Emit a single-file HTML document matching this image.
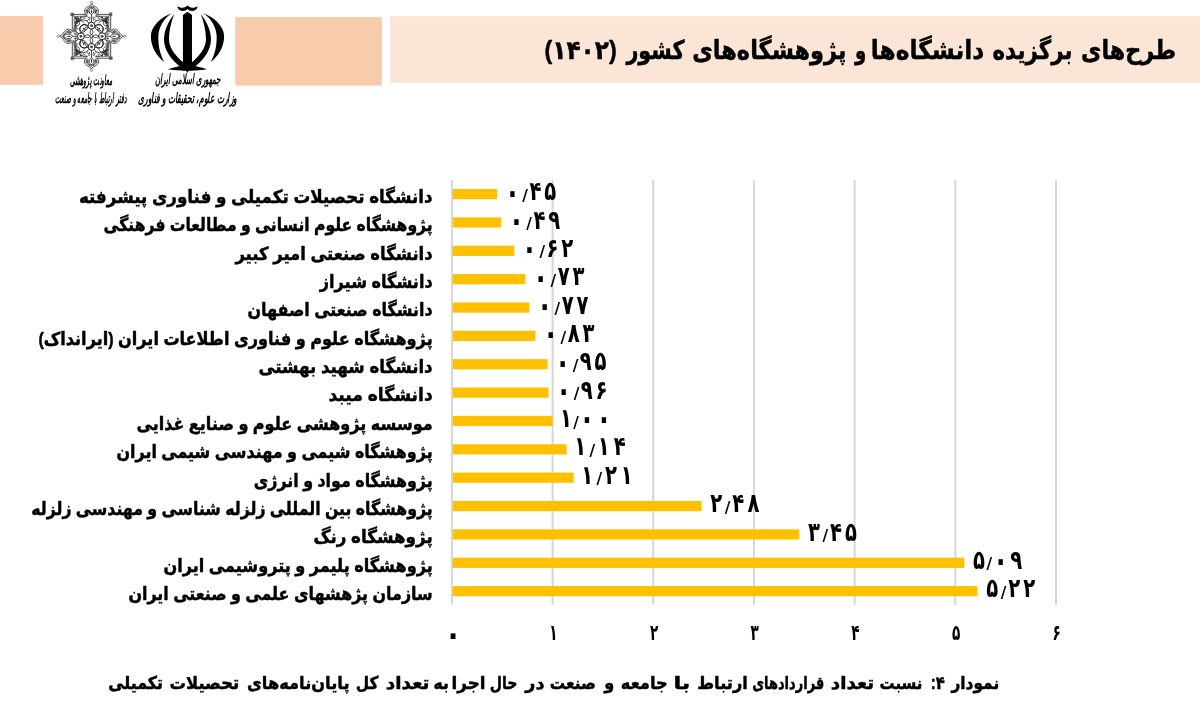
<!DOCTYPE html>
<html lang="fa">
<head>
<meta charset="utf-8">
<title>طرح‌های برگزیده دانشگاه‌ها و پژوهشگاه‌های کشور (۱۴۰۲)</title>
<style>
html,body{margin:0;padding:0;background:#fff;}
body{width:1200px;height:702px;overflow:hidden;position:relative;font-family:"Liberation Sans","DejaVu Sans",sans-serif;}
svg{position:absolute;left:0;top:0;display:block;}
text{font-family:"Liberation Sans","DejaVu Sans",sans-serif;fill:#000;}
.b{font-weight:bold;}
.cat,.ttl,.cap{stroke:#000;stroke-width:0.45px;stroke-linejoin:round;}
</style>
</head>
<body>
<svg width="1200" height="702" viewBox="0 0 1200 702">
<rect x="0" y="0" width="1200" height="702" fill="#ffffff"/>
<!-- header blocks -->
<rect x="0" y="16" width="43" height="68.8" fill="#f8cbad"/>
<rect x="235.3" y="17.1" width="146.6" height="68.5" fill="#f8cbad"/>
<rect x="390.1" y="16.2" width="809.9" height="66.6" fill="#fbe5d6"/>
<text class="b ttl" x="1176.12" y="59.0" font-size="26.2" direction="rtl" text-anchor="start" textLength="95.03" lengthAdjust="spacingAndGlyphs">طرح‌های</text>
<text class="b ttl" x="1072.48" y="59.0" font-size="26.2" direction="rtl" text-anchor="start" textLength="79.97" lengthAdjust="spacingAndGlyphs">برگزیده</text>
<text class="b ttl" x="984.31" y="59.0" font-size="26.2" direction="rtl" text-anchor="start" textLength="113.52" lengthAdjust="spacingAndGlyphs">دانشگاه‌ها</text>
<text class="b ttl" x="866.19" y="59.0" font-size="26.2" direction="rtl" text-anchor="start" textLength="11.26" lengthAdjust="spacingAndGlyphs">و</text>
<text class="b ttl" x="846.50" y="59.0" font-size="26.2" direction="rtl" text-anchor="start" textLength="154.26" lengthAdjust="spacingAndGlyphs">پژوهشگاه‌های</text>
<text class="b ttl" x="684.54" y="59.0" font-size="26.2" direction="rtl" text-anchor="start" textLength="58.15" lengthAdjust="spacingAndGlyphs">کشور</text>
<text class="b ttl" x="616.74" y="59.0" font-size="26.2" direction="rtl" text-anchor="start" textLength="72.23" lengthAdjust="spacingAndGlyphs">(۱۴۰۲)</text>
<!-- Iran emblem -->
<g id="emblem" transform="translate(145,0) scale(0.10678)" fill="#000">
<g id="emb-half">
<path d="M250,125 C150,160 55,250 55,340 C55,440 110,530 180,580 C140,510 122,420 125,340 C128,260 170,180 250,125 Z"/>
<path d="M275,130 C215,200 178,290 178,370 C178,470 250,570 340,630 L398,640 L398,600 L360,585 C290,530 225,450 225,370 C225,290 245,200 275,130 Z"/>
</g>
<use href="#emb-half" transform="translate(796,0) scale(-1,1)"/>
<path d="M398,110 L440,140 L440,620 L398,682 L355,620 L355,140 Z"/>
<path d="M215,648 C300,625 330,615 398,612 C466,615 500,625 580,648 C500,660 450,662 398,662 C346,662 300,660 215,648 Z"/>
<path d="M303,58 C305,85 325,102 350,102 C375,102 390,97 398,82 C406,97 420,102 445,102 C470,102 490,85 493,58 C482,66 465,72 445,72 C425,72 408,64 398,52 C388,64 372,72 350,72 C332,72 314,66 303,58 Z"/>
</g>
<text class="b" x="220.5" y="84" font-size="14" direction="rtl" text-anchor="start" textLength="65.5" lengthAdjust="spacingAndGlyphs" font-style="italic">جمهوری اسلامی ایران</text>
<text class="b" x="237.3" y="103.2" font-size="14" direction="rtl" text-anchor="start" textLength="99.6" lengthAdjust="spacingAndGlyphs" font-style="italic">وزارت علوم، تحقیقات و فناوری</text>
<!-- ornamental star -->
<g id="star" transform="translate(91.5,36.3)" fill="none" stroke="#3a3a3a" stroke-width="0.6" stroke-linejoin="round" stroke-linecap="round">
<g id="star-v">
<path d="M-19.2,-21.9 L-5.6,-21.9 C-7.8,-24.4 -7.8,-26.89 -4.8,-28.89 C-2.3,-30.79 -0.7,-30.6 0,-32.6 C0.7,-30.6 2.3,-30.79 4.8,-28.89 C7.8,-26.89 7.8,-24.4 5.6,-21.9 L19.2,-21.9" stroke="#333" stroke-width="0.85"/>
<path d="M-17.3,-20 L-4.1,-20 C-5.8,-23.4 -5.8,-26.39 -3.6,-27.79 C-1.6,-29.19 -0.5,-28.6 0,-30 C0.5,-28.6 1.6,-29.19 3.6,-27.79 C5.8,-26.39 5.8,-23.4 4.1,-20 L17.3,-20" stroke="#444" stroke-width="0.7"/>
<path d="M0,-32.6 L-1.3,-34 L0,-35.4 L1.3,-34 Z" stroke-width="0.6"/>
<rect x="-20.5" y="-23.2" width="2.6" height="2.6" fill="#666" stroke-width="0.5"/>
<path d="M0,-28.4 C-3,-27.89 -3.2,-23.4 0,-21.4 C3.2,-23.4 3,-27.89 0,-28.4 Z" stroke="#222" stroke-width="0.8"/>
<path d="M-2.3,0 C-0.77,-1.1 1.53,-0.55 2.3,0 C1.53,0.55 -0.77,1.1 -2.3,0 Z" transform="translate(0,-24.75) rotate(90)" fill="#2a2a2a" stroke="none"/>
<path d="M-3.6,-24.5 L-3.56,-24.28 L-3.7,-24.04 L-3.99,-23.91 L-4.37,-23.98 L-4.67,-24.29 L-4.76,-24.78 L-4.53,-25.28 L-4.01,-25.59 L-3.36,-25.57 L-2.77,-25.15 L-2.5,-24.43 L-2.69,-23.62" stroke="#333" stroke-width="0.6"/>
<path d="M3.6,-24.5 L3.56,-24.28 L3.7,-24.04 L3.99,-23.91 L4.37,-23.98 L4.67,-24.29 L4.76,-24.78 L4.53,-25.28 L4.01,-25.59 L3.36,-25.57 L2.77,-25.15 L2.5,-24.43 L2.69,-23.62" stroke="#333" stroke-width="0.6"/>
<path d="M-1.1,-29.59 C-3.4,-27.59 -4.8,-24.89 -3.8,-22.7" stroke="#222" stroke-width="0.7"/>
<path d="M-1.1,0 C-0.37,-0.8 0.73,-0.4 1.1,0 C0.73,0.4 -0.37,0.8 -1.1,0 Z" transform="translate(-4.9,-26.09) rotate(110)" fill="#2a2a2a" stroke="none"/>
<path d="M-0.9,0 C-0.3,-0.7 0.6,-0.35 0.9,0 C0.6,0.35 -0.3,0.7 -0.9,0 Z" transform="translate(-2.1,-29.29) rotate(120)" fill="#2a2a2a" stroke="none"/>
<circle cx="-5.6" cy="-25.7" r="0.55" fill="#333" stroke="none"/>
<path d="M-14.6,-17.7 L-14.52,-17.87 L-14.58,-18.1 L-14.83,-18.29 L-15.19,-18.3 L-15.56,-18.07 L-15.77,-17.61 L-15.69,-17.05 L-15.28,-16.57 L-14.62,-16.36 L-13.87,-16.54 L-13.29,-17.13 L-13.09,-18.01 L-13.39,-18.93 L-14.18,-19.6" stroke="#222" stroke-width="0.7"/>
<path d="M-1,0 C-0.33,-0.7 0.67,-0.35 1,0 C0.67,0.35 -0.33,0.7 -1,0 Z" transform="translate(-16,-18.9) rotate(-135)" fill="#2a2a2a" stroke="none"/>
<path d="M-17,-13.4 C-14.2,-14.4 -12.2,-16.9 -10.2,-19.3" stroke="#333" stroke-width="0.65"/>
<path d="M1.1,-29.59 C3.4,-27.59 4.8,-24.89 3.8,-22.7" stroke="#222" stroke-width="0.7"/>
<path d="M-1.1,0 C-0.37,-0.8 0.73,-0.4 1.1,0 C0.73,0.4 -0.37,0.8 -1.1,0 Z" transform="translate(4.9,-26.09) rotate(70)" fill="#2a2a2a" stroke="none"/>
<path d="M-0.9,0 C-0.3,-0.7 0.6,-0.35 0.9,0 C0.6,0.35 -0.3,0.7 -0.9,0 Z" transform="translate(2.1,-29.29) rotate(60)" fill="#2a2a2a" stroke="none"/>
<circle cx="5.6" cy="-25.7" r="0.55" fill="#333" stroke="none"/>
<path d="M15,-17.7 L15.08,-17.53 L15.02,-17.3 L14.77,-17.11 L14.41,-17.1 L14.04,-17.33 L13.83,-17.79 L13.91,-18.35 L14.32,-18.83 L14.98,-19.04 L15.73,-18.86 L16.31,-18.27 L16.51,-17.39 L16.21,-16.47 L15.42,-15.8" stroke="#222" stroke-width="0.7"/>
<path d="M-1,0 C-0.33,-0.7 0.67,-0.35 1,0 C0.67,0.35 -0.33,0.7 -1,0 Z" transform="translate(16,-18.9) rotate(-45)" fill="#2a2a2a" stroke="none"/>
<path d="M17,-13.4 C14.2,-14.4 12.2,-16.9 10.2,-19.3" stroke="#333" stroke-width="0.65"/>
<path d="M-2.6,-18.3 L-2.78,-18.23 L-3.01,-18.32 L-3.17,-18.59 L-3.12,-18.97 L-2.81,-19.3 L-2.31,-19.4 L-1.76,-19.18 L-1.41,-18.63 L-1.42,-17.9 L-1.88,-17.24 L-2.68,-16.93 L-3.6,-17.12" stroke="#2a2a2a" stroke-width="0.65"/>
<path d="M-1,0 C-0.33,-0.75 0.67,-0.38 1,0 C0.67,0.38 -0.33,0.75 -1,0 Z" transform="translate(-2.2,-16.4) rotate(-110)" fill="#2a2a2a" stroke="none"/>
<path d="M-1,0 C-0.33,-0.7 0.67,-0.35 1,0 C0.67,0.35 -0.33,0.7 -1,0 Z" transform="translate(-5.2,-20.3) rotate(0)" fill="#2a2a2a" stroke="none"/>
<path d="M2.6,-18.3 L2.78,-18.23 L3.01,-18.32 L3.17,-18.59 L3.12,-18.97 L2.81,-19.3 L2.31,-19.4 L1.76,-19.18 L1.41,-18.63 L1.42,-17.9 L1.88,-17.24 L2.68,-16.93 L3.6,-17.12" stroke="#2a2a2a" stroke-width="0.65"/>
<path d="M-1,0 C-0.33,-0.75 0.67,-0.38 1,0 C0.67,0.38 -0.33,0.75 -1,0 Z" transform="translate(2.2,-16.4) rotate(-70)" fill="#2a2a2a" stroke="none"/>
<path d="M-1,0 C-0.33,-0.7 0.67,-0.35 1,0 C0.67,0.35 -0.33,0.7 -1,0 Z" transform="translate(5.2,-20.3) rotate(0)" fill="#2a2a2a" stroke="none"/>
<path d="M0,-21.4 L0,-14.2" stroke="#222" stroke-width="0.8"/>
<circle cx="0" cy="-10.6" r="3.5" stroke="#1a1a1a" stroke-width="0.95"/>
<circle cx="0" cy="-10.6" r="1.4" fill="#444" stroke="none"/>
<path d="M0,-7.1 C-1.9,-5.2 -1.9,-3 0,-1.7 C1.9,-3 1.9,-5.2 0,-7.100 Z" stroke="#1a1a1a" stroke-width="0.85"/>
<path d="M-3.5,-10.6 C-7,-13 -10.4,-11.6 -11.3,-8.8 C-12.3,-5.600 -9.8,-3.3 -7.5,-4.4 C-5.5,-5.4 -5.9,-8.1 -8,-7.900" stroke="#1a1a1a" stroke-width="0.95"/>
<path d="M-2.6,-13.2 C-5,-17.200 -11.5,-17.5 -14.2,-14.4 C-16.4,-11.8 -15.8,-8.400 -13.4,-7.300" stroke="#222" stroke-width="0.8"/>
<path d="M-13.4,-16.6 L-13.22,-16.5 L-12.96,-16.52 L-12.71,-16.69 L-12.55,-17.01 L-12.55,-17.42 L-12.76,-17.84 L-13.18,-18.16 L-13.75,-18.28 L-14.38,-18.12 L-14.91,-17.67 L-15.24,-16.99 L-15.24,-16.17 L-14.88,-15.38 L-14.17,-14.77 L-13.21,-14.51 L-12.18,-14.67 L-11.26,-15.29 L-10.65,-16.28 L-10.5,-17.5 L-10.89,-18.72" stroke="#222" stroke-width="0.75"/>
<path d="M-7.2,-18.9 L-7.01,-18.97 L-6.77,-18.92 L-6.55,-18.7 L-6.46,-18.36 L-6.57,-17.97 L-6.89,-17.64 L-7.38,-17.48 L-7.93,-17.59 L-8.42,-17.98 L-8.69,-18.6 L-8.63,-19.33 L-8.21,-20 L-7.49,-20.42 L-6.59,-20.47 L-5.73,-20.07 L-5.11,-19.28" stroke="#333" stroke-width="0.65"/>
<path d="M-1.5,0 C-0.5,-1 1,-0.5 1.5,0 C1,0.5 -0.5,1 -1.5,0 Z" transform="translate(-14.6,-16.62) rotate(-135)" fill="#2a2a2a" stroke="none"/>
<path d="M-1.2,0 C-0.4,-0.9 0.8,-0.45 1.2,0 C0.8,0.45 -0.4,0.9 -1.2,0 Z" transform="translate(-8.6,-6) rotate(140)" fill="#2a2a2a" stroke="none"/>
<path d="M-1.3,0 C-0.43,-0.9 0.87,-0.45 1.3,0 C0.87,0.45 -0.43,0.9 -1.3,0 Z" transform="translate(-10.2,-19.1) rotate(0)" fill="#2a2a2a" stroke="none"/>
<path d="M-1.1,0 C-0.37,-0.8 0.73,-0.4 1.1,0 C0.73,0.4 -0.37,0.8 -1.1,0 Z" transform="translate(-4.4,-15.6) rotate(-120)" fill="#2a2a2a" stroke="none"/>
<path d="M-1.1,0 C-0.37,-0.8 0.73,-0.4 1.1,0 C0.73,0.4 -0.37,0.8 -1.1,0 Z" transform="translate(-16.2,-14.4) rotate(90)" fill="#2a2a2a" stroke="none"/>
<path d="M3.5,-10.6 C7,-13 10.4,-11.6 11.3,-8.8 C12.3,-5.600 9.8,-3.3 7.5,-4.4 C5.5,-5.4 5.9,-8.1 8,-7.900" stroke="#1a1a1a" stroke-width="0.95"/>
<path d="M2.6,-13.2 C5,-17.200 11.5,-17.5 14.2,-14.4 C16.4,-11.8 15.8,-8.400 13.4,-7.300" stroke="#222" stroke-width="0.8"/>
<path d="M13.4,-16.6 L13.22,-16.5 L12.96,-16.52 L12.71,-16.69 L12.55,-17.01 L12.55,-17.42 L12.76,-17.84 L13.18,-18.16 L13.75,-18.28 L14.38,-18.12 L14.91,-17.67 L15.24,-16.99 L15.24,-16.17 L14.88,-15.38 L14.17,-14.77 L13.21,-14.51 L12.18,-14.67 L11.26,-15.29 L10.65,-16.28 L10.5,-17.5 L10.89,-18.72" stroke="#222" stroke-width="0.75"/>
<path d="M7.2,-18.9 L7.01,-18.97 L6.77,-18.92 L6.55,-18.7 L6.46,-18.36 L6.57,-17.97 L6.89,-17.64 L7.38,-17.48 L7.93,-17.59 L8.42,-17.98 L8.69,-18.6 L8.63,-19.33 L8.21,-20 L7.49,-20.42 L6.59,-20.47 L5.73,-20.07 L5.11,-19.28" stroke="#333" stroke-width="0.65"/>
<path d="M-1.5,0 C-0.5,-1 1,-0.5 1.5,0 C1,0.5 -0.5,1 -1.5,0 Z" transform="translate(14.6,-16.62) rotate(-45)" fill="#2a2a2a" stroke="none"/>
<path d="M-1.2,0 C-0.4,-0.9 0.8,-0.45 1.2,0 C0.8,0.45 -0.4,0.9 -1.2,0 Z" transform="translate(8.6,-6) rotate(40)" fill="#2a2a2a" stroke="none"/>
<path d="M-1.3,0 C-0.43,-0.9 0.87,-0.45 1.3,0 C0.87,0.45 -0.43,0.9 -1.3,0 Z" transform="translate(10.2,-19.1) rotate(0)" fill="#2a2a2a" stroke="none"/>
<path d="M-1.1,0 C-0.37,-0.8 0.73,-0.4 1.1,0 C0.73,0.4 -0.37,0.8 -1.1,0 Z" transform="translate(4.4,-15.6) rotate(-60)" fill="#2a2a2a" stroke="none"/>
<path d="M-1.1,0 C-0.37,-0.8 0.73,-0.4 1.1,0 C0.73,0.4 -0.37,0.8 -1.1,0 Z" transform="translate(16.2,-14.4) rotate(90)" fill="#2a2a2a" stroke="none"/>
</g>
<use href="#star-v" transform="rotate(180)"/>
<g transform="rotate(90)">
<g id="star-h">
<path d="M-21.9,-19.2 L-5.6,-19.2 C-7.8,-21.7 -7.8,-25.08 -4.8,-27.08 C-2.3,-28.98 -0.7,-30 0,-32 C0.7,-30 2.3,-28.98 4.8,-27.08 C7.8,-25.08 7.8,-21.7 5.6,-19.2 L21.9,-19.2" stroke="#333" stroke-width="0.85"/>
<path d="M-20,-17.3 L-4.1,-17.3 C-5.8,-20.7 -5.8,-24.58 -3.6,-25.98 C-1.6,-27.38 -0.5,-28 0,-29.4 C0.5,-28 1.6,-27.38 3.6,-25.98 C5.8,-24.58 5.8,-20.7 4.1,-17.3 L20,-17.3" stroke="#444" stroke-width="0.7"/>
<path d="M0,-32 L-1.3,-33.4 L0,-34.8 L1.3,-33.4 Z" stroke-width="0.6"/>
<rect x="-23.2" y="-20.5" width="2.6" height="2.6" fill="#666" stroke-width="0.5"/>
<path d="M0,-27.8 C-3,-26.08 -3.2,-20.7 0,-18.7 C3.2,-20.7 3,-26.08 0,-27.8 Z" stroke="#222" stroke-width="0.8"/>
<path d="M-2.3,0 C-0.77,-1.1 1.53,-0.55 2.3,0 C1.53,0.55 -0.77,1.1 -2.3,0 Z" transform="translate(0,-22.49) rotate(90)" fill="#2a2a2a" stroke="none"/>
<path d="M-3.6,-21.8 L-3.56,-21.58 L-3.7,-21.34 L-3.99,-21.21 L-4.37,-21.28 L-4.67,-21.59 L-4.76,-22.08 L-4.53,-22.58 L-4.01,-22.89 L-3.36,-22.87 L-2.77,-22.45 L-2.5,-21.73 L-2.69,-20.92" stroke="#333" stroke-width="0.6"/>
<path d="M3.6,-21.8 L3.56,-21.58 L3.7,-21.34 L3.99,-21.21 L4.37,-21.28 L4.67,-21.59 L4.76,-22.08 L4.53,-22.58 L4.01,-22.89 L3.36,-22.87 L2.77,-22.45 L2.5,-21.73 L2.69,-20.92" stroke="#333" stroke-width="0.6"/>
<path d="M-1.1,-27.78 C-3.4,-25.78 -4.8,-23.08 -3.8,-20" stroke="#222" stroke-width="0.7"/>
<path d="M-1.1,0 C-0.37,-0.8 0.73,-0.4 1.1,0 C0.73,0.4 -0.37,0.8 -1.1,0 Z" transform="translate(-4.9,-24.28) rotate(110)" fill="#2a2a2a" stroke="none"/>
<path d="M-0.9,0 C-0.3,-0.7 0.6,-0.35 0.9,0 C0.6,0.35 -0.3,0.7 -0.9,0 Z" transform="translate(-2.1,-27.48) rotate(120)" fill="#2a2a2a" stroke="none"/>
<circle cx="-5.6" cy="-23" r="0.55" fill="#333" stroke="none"/>
<path d="M-17.3,-15 L-17.22,-15.17 L-17.28,-15.4 L-17.53,-15.59 L-17.89,-15.6 L-18.26,-15.37 L-18.47,-14.91 L-18.39,-14.35 L-17.98,-13.87 L-17.32,-13.66 L-16.57,-13.84 L-15.99,-14.43 L-15.79,-15.31 L-16.09,-16.23 L-16.88,-16.9" stroke="#222" stroke-width="0.7"/>
<path d="M-1,0 C-0.33,-0.7 0.67,-0.35 1,0 C0.67,0.35 -0.33,0.7 -1,0 Z" transform="translate(-18.7,-16.2) rotate(-135)" fill="#2a2a2a" stroke="none"/>
<path d="M-19.7,-10.7 C-16.9,-11.7 -14.9,-14.2 -12.9,-16.6" stroke="#333" stroke-width="0.65"/>
<path d="M1.1,-27.78 C3.4,-25.78 4.8,-23.08 3.8,-20" stroke="#222" stroke-width="0.7"/>
<path d="M-1.1,0 C-0.37,-0.8 0.73,-0.4 1.1,0 C0.73,0.4 -0.37,0.8 -1.1,0 Z" transform="translate(4.9,-24.28) rotate(70)" fill="#2a2a2a" stroke="none"/>
<path d="M-0.9,0 C-0.3,-0.7 0.6,-0.35 0.9,0 C0.6,0.35 -0.3,0.7 -0.9,0 Z" transform="translate(2.1,-27.48) rotate(60)" fill="#2a2a2a" stroke="none"/>
<circle cx="5.6" cy="-23" r="0.55" fill="#333" stroke="none"/>
<path d="M17.7,-15 L17.78,-14.83 L17.72,-14.6 L17.47,-14.41 L17.11,-14.4 L16.74,-14.63 L16.53,-15.09 L16.61,-15.65 L17.02,-16.13 L17.68,-16.34 L18.43,-16.16 L19.01,-15.57 L19.21,-14.69 L18.91,-13.77 L18.12,-13.1" stroke="#222" stroke-width="0.7"/>
<path d="M-1,0 C-0.33,-0.7 0.67,-0.35 1,0 C0.67,0.35 -0.33,0.7 -1,0 Z" transform="translate(18.7,-16.2) rotate(-45)" fill="#2a2a2a" stroke="none"/>
<path d="M19.7,-10.7 C16.9,-11.7 14.9,-14.2 12.9,-16.6" stroke="#333" stroke-width="0.65"/>
<path d="M-2.6,-15.6 L-2.78,-15.53 L-3.01,-15.62 L-3.17,-15.89 L-3.12,-16.27 L-2.81,-16.6 L-2.31,-16.7 L-1.76,-16.48 L-1.41,-15.93 L-1.42,-15.2 L-1.88,-14.54 L-2.68,-14.23 L-3.6,-14.42" stroke="#2a2a2a" stroke-width="0.65"/>
<path d="M-1,0 C-0.33,-0.75 0.67,-0.38 1,0 C0.67,0.38 -0.33,0.75 -1,0 Z" transform="translate(-2.2,-16.4) rotate(-110)" fill="#2a2a2a" stroke="none"/>
<path d="M-1,0 C-0.33,-0.7 0.67,-0.35 1,0 C0.67,0.35 -0.33,0.7 -1,0 Z" transform="translate(-5.2,-17.6) rotate(0)" fill="#2a2a2a" stroke="none"/>
<path d="M2.6,-15.6 L2.78,-15.53 L3.01,-15.62 L3.17,-15.89 L3.12,-16.27 L2.81,-16.6 L2.31,-16.7 L1.76,-16.48 L1.41,-15.93 L1.42,-15.2 L1.88,-14.54 L2.68,-14.23 L3.6,-14.42" stroke="#2a2a2a" stroke-width="0.65"/>
<path d="M-1,0 C-0.33,-0.75 0.67,-0.38 1,0 C0.67,0.38 -0.33,0.75 -1,0 Z" transform="translate(2.2,-16.4) rotate(-70)" fill="#2a2a2a" stroke="none"/>
<path d="M-1,0 C-0.33,-0.7 0.67,-0.35 1,0 C0.67,0.35 -0.33,0.7 -1,0 Z" transform="translate(5.2,-17.6) rotate(0)" fill="#2a2a2a" stroke="none"/>
<path d="M0,-18.7 L0,-14.2" stroke="#222" stroke-width="0.8"/>
<circle cx="0" cy="-10.6" r="3.5" stroke="#1a1a1a" stroke-width="0.95"/>
<circle cx="0" cy="-10.6" r="1.4" fill="#444" stroke="none"/>
<path d="M0,-7.1 C-1.9,-5.2 -1.9,-3 0,-1.7 C1.9,-3 1.9,-5.2 0,-7.100 Z" stroke="#1a1a1a" stroke-width="0.85"/>
<path d="M-3.5,-10.6 C-7,-13 -10.4,-11.6 -11.3,-8.8 C-12.3,-5.600 -9.8,-3.3 -7.5,-4.4 C-5.5,-5.4 -5.9,-8.1 -8,-7.900" stroke="#1a1a1a" stroke-width="0.95"/>
<path d="M-2.6,-13.2 C-5,-17.200 -11.5,-17.5 -14.2,-14.4 C-16.4,-11.8 -15.8,-8.400 -13.4,-7.300" stroke="#222" stroke-width="0.8"/>
<path d="M-13.4,-13.9 L-13.22,-13.8 L-12.96,-13.82 L-12.71,-13.99 L-12.55,-14.31 L-12.55,-14.72 L-12.76,-15.14 L-13.18,-15.46 L-13.75,-15.58 L-14.38,-15.42 L-14.91,-14.97 L-15.24,-14.29 L-15.24,-13.47 L-14.88,-12.68 L-14.17,-12.07 L-13.21,-11.81 L-12.18,-11.97 L-11.26,-12.59 L-10.65,-13.58 L-10.5,-14.8 L-10.89,-16.02" stroke="#222" stroke-width="0.75"/>
<path d="M-7.2,-16.2 L-7.01,-16.27 L-6.77,-16.22 L-6.55,-16 L-6.46,-15.66 L-6.57,-15.27 L-6.89,-14.94 L-7.38,-14.78 L-7.93,-14.89 L-8.42,-15.28 L-8.69,-15.9 L-8.63,-16.63 L-8.21,-17.3 L-7.49,-17.72 L-6.59,-17.77 L-5.73,-17.37 L-5.11,-16.58" stroke="#333" stroke-width="0.65"/>
<path d="M-1.5,0 C-0.5,-1 1,-0.5 1.5,0 C1,0.5 -0.5,1 -1.5,0 Z" transform="translate(-14.6,-15) rotate(-135)" fill="#2a2a2a" stroke="none"/>
<path d="M-1.2,0 C-0.4,-0.9 0.8,-0.45 1.2,0 C0.8,0.45 -0.4,0.9 -1.2,0 Z" transform="translate(-8.6,-6) rotate(140)" fill="#2a2a2a" stroke="none"/>
<path d="M-1.3,0 C-0.43,-0.9 0.87,-0.45 1.3,0 C0.87,0.45 -0.43,0.9 -1.3,0 Z" transform="translate(-10.2,-16.4) rotate(0)" fill="#2a2a2a" stroke="none"/>
<path d="M-1.1,0 C-0.37,-0.8 0.73,-0.4 1.1,0 C0.73,0.4 -0.37,0.8 -1.1,0 Z" transform="translate(-4.4,-15.6) rotate(-120)" fill="#2a2a2a" stroke="none"/>
<path d="M-1.1,0 C-0.37,-0.8 0.73,-0.4 1.1,0 C0.73,0.4 -0.37,0.8 -1.1,0 Z" transform="translate(-16.2,-11.7) rotate(90)" fill="#2a2a2a" stroke="none"/>
<path d="M3.5,-10.6 C7,-13 10.4,-11.6 11.3,-8.8 C12.3,-5.600 9.8,-3.3 7.5,-4.4 C5.5,-5.4 5.9,-8.1 8,-7.900" stroke="#1a1a1a" stroke-width="0.95"/>
<path d="M2.6,-13.2 C5,-17.200 11.5,-17.5 14.2,-14.4 C16.4,-11.8 15.8,-8.400 13.4,-7.300" stroke="#222" stroke-width="0.8"/>
<path d="M13.4,-13.9 L13.22,-13.8 L12.96,-13.82 L12.71,-13.99 L12.55,-14.31 L12.55,-14.72 L12.76,-15.14 L13.18,-15.46 L13.75,-15.58 L14.38,-15.42 L14.91,-14.97 L15.24,-14.29 L15.24,-13.47 L14.88,-12.68 L14.17,-12.07 L13.21,-11.81 L12.18,-11.97 L11.26,-12.59 L10.65,-13.58 L10.5,-14.8 L10.89,-16.02" stroke="#222" stroke-width="0.75"/>
<path d="M7.2,-16.2 L7.01,-16.27 L6.77,-16.22 L6.55,-16 L6.46,-15.66 L6.57,-15.27 L6.89,-14.94 L7.38,-14.78 L7.93,-14.89 L8.42,-15.28 L8.69,-15.9 L8.63,-16.63 L8.21,-17.3 L7.49,-17.72 L6.59,-17.77 L5.73,-17.37 L5.11,-16.58" stroke="#333" stroke-width="0.65"/>
<path d="M-1.5,0 C-0.5,-1 1,-0.5 1.5,0 C1,0.5 -0.5,1 -1.5,0 Z" transform="translate(14.6,-15) rotate(-45)" fill="#2a2a2a" stroke="none"/>
<path d="M-1.2,0 C-0.4,-0.9 0.8,-0.45 1.2,0 C0.8,0.45 -0.4,0.9 -1.2,0 Z" transform="translate(8.6,-6) rotate(40)" fill="#2a2a2a" stroke="none"/>
<path d="M-1.3,0 C-0.43,-0.9 0.87,-0.45 1.3,0 C0.87,0.45 -0.43,0.9 -1.3,0 Z" transform="translate(10.2,-16.4) rotate(0)" fill="#2a2a2a" stroke="none"/>
<path d="M-1.1,0 C-0.37,-0.8 0.73,-0.4 1.1,0 C0.73,0.4 -0.37,0.8 -1.1,0 Z" transform="translate(4.4,-15.6) rotate(-60)" fill="#2a2a2a" stroke="none"/>
<path d="M-1.1,0 C-0.37,-0.8 0.73,-0.4 1.1,0 C0.73,0.4 -0.37,0.8 -1.1,0 Z" transform="translate(16.2,-11.7) rotate(90)" fill="#2a2a2a" stroke="none"/>
</g>
</g>
<use href="#star-h" transform="rotate(270)"/>
<circle cx="0" cy="0" r="1.7" stroke="#1a1a1a" stroke-width="0.8"/>
</g>

<text class="b" x="112.3" y="84.5" font-size="14" direction="rtl" text-anchor="start" textLength="42.5" lengthAdjust="spacingAndGlyphs" font-style="italic">معاونت پژوهشی</text>
<text class="b" x="126.4" y="103.2" font-size="14" direction="rtl" text-anchor="start" textLength="71.2" lengthAdjust="spacingAndGlyphs" font-style="italic">دفتر ارتباط با جامعه و صنعت</text>

<rect x="450.90" y="180" width="2" height="424.7" fill="#d6d6d6"/>
<rect x="551.58" y="180" width="2" height="424.7" fill="#d6d6d6"/>
<rect x="652.26" y="180" width="2" height="424.7" fill="#d6d6d6"/>
<rect x="752.94" y="180" width="2" height="424.7" fill="#d6d6d6"/>
<rect x="853.62" y="180" width="2" height="424.7" fill="#d6d6d6"/>
<rect x="954.30" y="180" width="2" height="424.7" fill="#d6d6d6"/>
<rect x="1054.98" y="180" width="2" height="424.7" fill="#d6d6d6"/>
<rect x="452.80" y="189.00" width="44.41" height="10.2" fill="#ffc000"/>
<text class="b cat" x="432.7" y="202.90" font-size="18.2" direction="rtl" text-anchor="start" textLength="353.8" lengthAdjust="spacingAndGlyphs">دانشگاه تحصیلات تکمیلی و فناوری پیشرفته</text>
<text class="b val" transform="translate(504.71,200.25) scale(0.74,1)" font-size="26.5" textLength="69.6" lengthAdjust="spacing"><tspan font-size="34" dy="3.3">۰</tspan><tspan font-size="19" dy="-1.8" font-style="italic">/</tspan><tspan font-size="26.5" dy="-1.5">۴</tspan><tspan font-size="26.5" dy="0.0">۵</tspan></text>
<rect x="452.80" y="217.36" width="48.43" height="10.2" fill="#ffc000"/>
<text class="b cat" x="432.7" y="231.26" font-size="18.2" direction="rtl" text-anchor="start" textLength="329.3" lengthAdjust="spacingAndGlyphs">پژوهشگاه علوم انسانی و مطالعات فرهنگی</text>
<text class="b val" transform="translate(508.73,228.61) scale(0.74,1)" font-size="26.5" textLength="69.6" lengthAdjust="spacing"><tspan font-size="34" dy="3.3">۰</tspan><tspan font-size="19" dy="-1.8" font-style="italic">/</tspan><tspan font-size="26.5" dy="-1.5">۴</tspan><tspan font-size="26.5" dy="0.0">۹</tspan></text>
<rect x="452.80" y="245.72" width="61.52" height="10.2" fill="#ffc000"/>
<text class="b cat" x="432.7" y="259.62" font-size="18.2" direction="rtl" text-anchor="start" textLength="197.3" lengthAdjust="spacingAndGlyphs">دانشگاه صنعتی امیر کبیر</text>
<text class="b val" transform="translate(521.82,256.97) scale(0.74,1)" font-size="26.5" textLength="69.6" lengthAdjust="spacing"><tspan font-size="34" dy="3.3">۰</tspan><tspan font-size="19" dy="-1.8" font-style="italic">/</tspan><tspan font-size="26.5" dy="-1.5">۶</tspan><tspan font-size="26.5" dy="0.0">۲</tspan></text>
<rect x="452.80" y="274.08" width="72.60" height="10.2" fill="#ffc000"/>
<text class="b cat" x="432.7" y="287.98" font-size="18.2" direction="rtl" text-anchor="start" textLength="112.9" lengthAdjust="spacingAndGlyphs">دانشگاه شیراز</text>
<text class="b val" transform="translate(532.90,285.33) scale(0.74,1)" font-size="26.5" textLength="69.6" lengthAdjust="spacing"><tspan font-size="34" dy="3.3">۰</tspan><tspan font-size="19" dy="-1.8" font-style="italic">/</tspan><tspan font-size="26.5" dy="-1.5">۷</tspan><tspan font-size="26.5" dy="0.0">۳</tspan></text>
<rect x="452.80" y="302.44" width="76.62" height="10.2" fill="#ffc000"/>
<text class="b cat" x="432.7" y="316.34" font-size="18.2" direction="rtl" text-anchor="start" textLength="185.3" lengthAdjust="spacingAndGlyphs">دانشگاه صنعتی اصفهان</text>
<text class="b val" transform="translate(536.92,313.69) scale(0.74,1)" font-size="26.5" textLength="69.6" lengthAdjust="spacing"><tspan font-size="34" dy="3.3">۰</tspan><tspan font-size="19" dy="-1.8" font-style="italic">/</tspan><tspan font-size="26.5" dy="-1.5">۷</tspan><tspan font-size="26.5" dy="0.0">۷</tspan></text>
<rect x="452.80" y="330.80" width="82.66" height="10.2" fill="#ffc000"/>
<text class="b cat" x="432.7" y="344.70" font-size="18.2" direction="rtl" text-anchor="start" textLength="394.3" lengthAdjust="spacingAndGlyphs">پژوهشگاه علوم و فناوری اطلاعات ایران (ایرانداک)</text>
<text class="b val" transform="translate(542.96,342.05) scale(0.74,1)" font-size="26.5" textLength="69.6" lengthAdjust="spacing"><tspan font-size="34" dy="3.3">۰</tspan><tspan font-size="19" dy="-1.8" font-style="italic">/</tspan><tspan font-size="26.5" dy="-1.5">۸</tspan><tspan font-size="26.5" dy="0.0">۳</tspan></text>
<rect x="452.80" y="359.16" width="94.75" height="10.2" fill="#ffc000"/>
<text class="b cat" x="432.7" y="373.06" font-size="18.2" direction="rtl" text-anchor="start" textLength="174.3" lengthAdjust="spacingAndGlyphs">دانشگاه شهید بهشتی</text>
<text class="b val" transform="translate(555.05,370.41) scale(0.74,1)" font-size="26.5" textLength="69.6" lengthAdjust="spacing"><tspan font-size="34" dy="3.3">۰</tspan><tspan font-size="19" dy="-1.8" font-style="italic">/</tspan><tspan font-size="26.5" dy="-1.5">۹</tspan><tspan font-size="26.5" dy="0.0">۵</tspan></text>
<rect x="452.80" y="387.52" width="95.75" height="10.2" fill="#ffc000"/>
<text class="b cat" x="432.7" y="401.42" font-size="18.2" direction="rtl" text-anchor="start" textLength="104.3" lengthAdjust="spacingAndGlyphs">دانشگاه میبد</text>
<text class="b val" transform="translate(556.05,398.77) scale(0.74,1)" font-size="26.5" textLength="69.6" lengthAdjust="spacing"><tspan font-size="34" dy="3.3">۰</tspan><tspan font-size="19" dy="-1.8" font-style="italic">/</tspan><tspan font-size="26.5" dy="-1.5">۹</tspan><tspan font-size="26.5" dy="0.0">۶</tspan></text>
<rect x="452.80" y="415.88" width="99.78" height="10.2" fill="#ffc000"/>
<text class="b cat" x="432.7" y="429.78" font-size="18.2" direction="rtl" text-anchor="start" textLength="296.3" lengthAdjust="spacingAndGlyphs">موسسه پژوهشی علوم و صنایع غذایی</text>
<text class="b val" transform="translate(560.08,427.13) scale(0.74,1)" font-size="26.5" textLength="69.6" lengthAdjust="spacing"><tspan font-size="26.5" dy="0.0">۱</tspan><tspan font-size="19" dy="1.5" font-style="italic">/</tspan><tspan font-size="34" dy="1.8">۰</tspan><tspan font-size="34" dy="0.0">۰</tspan></text>
<rect x="452.80" y="444.24" width="113.88" height="10.2" fill="#ffc000"/>
<text class="b cat" x="432.7" y="458.14" font-size="18.2" direction="rtl" text-anchor="start" textLength="316.3" lengthAdjust="spacingAndGlyphs">پژوهشگاه شیمی و مهندسی شیمی ایران</text>
<text class="b val" transform="translate(574.18,455.49) scale(0.74,1)" font-size="26.5" textLength="69.6" lengthAdjust="spacing"><tspan font-size="26.5" dy="0.0">۱</tspan><tspan font-size="19" dy="1.5" font-style="italic">/</tspan><tspan font-size="26.5" dy="-1.5">۱</tspan><tspan font-size="26.5" dy="0.0">۴</tspan></text>
<rect x="452.80" y="472.60" width="120.92" height="10.2" fill="#ffc000"/>
<text class="b cat" x="432.7" y="486.50" font-size="18.2" direction="rtl" text-anchor="start" textLength="178.9" lengthAdjust="spacingAndGlyphs">پژوهشگاه مواد و انرژی</text>
<text class="b val" transform="translate(581.22,483.85) scale(0.74,1)" font-size="26.5" textLength="69.6" lengthAdjust="spacing"><tspan font-size="26.5" dy="0.0">۱</tspan><tspan font-size="19" dy="1.5" font-style="italic">/</tspan><tspan font-size="26.5" dy="-1.5">۲</tspan><tspan font-size="26.5" dy="0.0">۱</tspan></text>
<rect x="452.80" y="500.96" width="248.79" height="10.2" fill="#ffc000"/>
<text class="b cat" x="432.7" y="514.86" font-size="18.2" direction="rtl" text-anchor="start" textLength="401.5" lengthAdjust="spacingAndGlyphs">پژوهشگاه بین المللی زلزله شناسی و مهندسی زلزله</text>
<text class="b val" transform="translate(710.29,512.21) scale(0.74,1)" font-size="26.5" textLength="66.4" lengthAdjust="spacing"><tspan font-size="26.5" dy="0.0">۲</tspan><tspan font-size="19" dy="1.5" font-style="italic">/</tspan><tspan font-size="26.5" dy="-1.5">۴</tspan><tspan font-size="26.5" dy="0.0">۸</tspan></text>
<rect x="452.80" y="529.32" width="346.45" height="10.2" fill="#ffc000"/>
<text class="b cat" x="432.7" y="543.22" font-size="18.2" direction="rtl" text-anchor="start" textLength="119.3" lengthAdjust="spacingAndGlyphs">پژوهشگاه رنگ</text>
<text class="b val" transform="translate(807.95,540.57) scale(0.74,1)" font-size="26.5" textLength="66.4" lengthAdjust="spacing"><tspan font-size="26.5" dy="0.0">۳</tspan><tspan font-size="19" dy="1.5" font-style="italic">/</tspan><tspan font-size="26.5" dy="-1.5">۴</tspan><tspan font-size="26.5" dy="0.0">۵</tspan></text>
<rect x="452.80" y="557.68" width="511.56" height="10.2" fill="#ffc000"/>
<text class="b cat" x="432.7" y="571.58" font-size="18.2" direction="rtl" text-anchor="start" textLength="269.3" lengthAdjust="spacingAndGlyphs">پژوهشگاه پلیمر و پتروشیمی ایران</text>
<text class="b val" transform="translate(973.06,568.93) scale(0.74,1)" font-size="26.5" textLength="66.4" lengthAdjust="spacing"><tspan font-size="26.5" dy="0.0">۵</tspan><tspan font-size="19" dy="1.5" font-style="italic">/</tspan><tspan font-size="34" dy="1.8">۰</tspan><tspan font-size="26.5" dy="-3.3">۹</tspan></text>
<rect x="452.80" y="586.04" width="524.65" height="10.2" fill="#ffc000"/>
<text class="b cat" x="432.7" y="599.94" font-size="18.2" direction="rtl" text-anchor="start" textLength="304.3" lengthAdjust="spacingAndGlyphs">سازمان پژهشهای علمی و صنعتی ایران</text>
<text class="b val" transform="translate(986.15,597.29) scale(0.74,1)" font-size="26.5" textLength="66.4" lengthAdjust="spacing"><tspan font-size="26.5" dy="0.0">۵</tspan><tspan font-size="19" dy="1.5" font-style="italic">/</tspan><tspan font-size="26.5" dy="-1.5">۲</tspan><tspan font-size="26.5" dy="0.0">۲</tspan></text>
<text class="b" transform="translate(453.10,645.2) scale(0.85,1)" font-size="33" text-anchor="middle">۰</text>
<text class="b" transform="translate(553.38,639.8) scale(0.62,1)" font-size="22" text-anchor="middle">۱</text>
<text class="b" transform="translate(654.06,639.8) scale(0.62,1)" font-size="22" text-anchor="middle">۲</text>
<text class="b" transform="translate(754.74,639.8) scale(0.62,1)" font-size="22" text-anchor="middle">۳</text>
<text class="b" transform="translate(855.42,639.8) scale(0.62,1)" font-size="22" text-anchor="middle">۴</text>
<text class="b" transform="translate(956.10,639.8) scale(0.62,1)" font-size="22" text-anchor="middle">۵</text>
<text class="b" transform="translate(1056.78,639.8) scale(0.62,1)" font-size="22" text-anchor="middle">۶</text>
<text class="b cap" x="999.17" y="688.8" font-size="17.7" direction="rtl" text-anchor="start" textLength="47.70" lengthAdjust="spacingAndGlyphs">نمودار</text>
<text class="b cap" x="944.76" y="688.8" font-size="17.7" direction="rtl" text-anchor="start" textLength="14.03" lengthAdjust="spacingAndGlyphs">۴:</text>
<text class="b cap" x="922.53" y="688.8" font-size="17.7" direction="rtl" text-anchor="start" textLength="43.00" lengthAdjust="spacingAndGlyphs">نسبت</text>
<text class="b cap" x="874.18" y="688.8" font-size="17.7" direction="rtl" text-anchor="start" textLength="43.38" lengthAdjust="spacingAndGlyphs">تعداد</text>
<text class="b cap" x="824.21" y="688.8" font-size="17.7" direction="rtl" text-anchor="start" textLength="72.03" lengthAdjust="spacingAndGlyphs">قراردادهای</text>
<text class="b cap" x="747.81" y="688.8" font-size="17.7" direction="rtl" text-anchor="start" textLength="50.60" lengthAdjust="spacingAndGlyphs">ارتباط</text>
<text class="b cap" x="690.32" y="688.8" font-size="17.7" direction="rtl" text-anchor="start" textLength="16.87" lengthAdjust="spacingAndGlyphs">با</text>
<text class="b cap" x="667.77" y="688.8" font-size="17.7" direction="rtl" text-anchor="start" textLength="46.96" lengthAdjust="spacingAndGlyphs">جامعه</text>
<text class="b cap" x="614.15" y="688.8" font-size="17.7" direction="rtl" text-anchor="start" textLength="10.00" lengthAdjust="spacingAndGlyphs">و</text>
<text class="b cap" x="595.78" y="688.8" font-size="17.7" direction="rtl" text-anchor="start" textLength="45.98" lengthAdjust="spacingAndGlyphs">صنعت</text>
<text class="b cap" x="544.42" y="688.8" font-size="17.7" direction="rtl" text-anchor="start" textLength="19.17" lengthAdjust="spacingAndGlyphs">در</text>
<text class="b cap" x="517.47" y="688.8" font-size="17.7" direction="rtl" text-anchor="start" textLength="27.68" lengthAdjust="spacingAndGlyphs">حال</text>
<text class="b cap" x="485.50" y="688.8" font-size="17.7" direction="rtl" text-anchor="start" textLength="34.00" lengthAdjust="spacingAndGlyphs">اجرا</text>
<text class="b cap" x="449.02" y="688.8" font-size="17.7" direction="rtl" text-anchor="start" textLength="15.48" lengthAdjust="spacingAndGlyphs">به</text>
<text class="b cap" x="429.48" y="688.8" font-size="17.7" direction="rtl" text-anchor="start" textLength="43.69" lengthAdjust="spacingAndGlyphs">تعداد</text>
<text class="b cap" x="378.55" y="688.8" font-size="17.7" direction="rtl" text-anchor="start" textLength="22.70" lengthAdjust="spacingAndGlyphs">کل</text>
<text class="b cap" x="349.51" y="688.8" font-size="17.7" direction="rtl" text-anchor="start" textLength="102.50" lengthAdjust="spacingAndGlyphs">پایان‌نامه‌های</text>
<text class="b cap" x="239.23" y="688.8" font-size="17.7" direction="rtl" text-anchor="start" textLength="69.71" lengthAdjust="spacingAndGlyphs">تحصیلات</text>
<text class="b cap" x="162.99" y="688.8" font-size="17.7" direction="rtl" text-anchor="start" textLength="54.74" lengthAdjust="spacingAndGlyphs">تکمیلی</text>
</svg>
</body>
</html>
